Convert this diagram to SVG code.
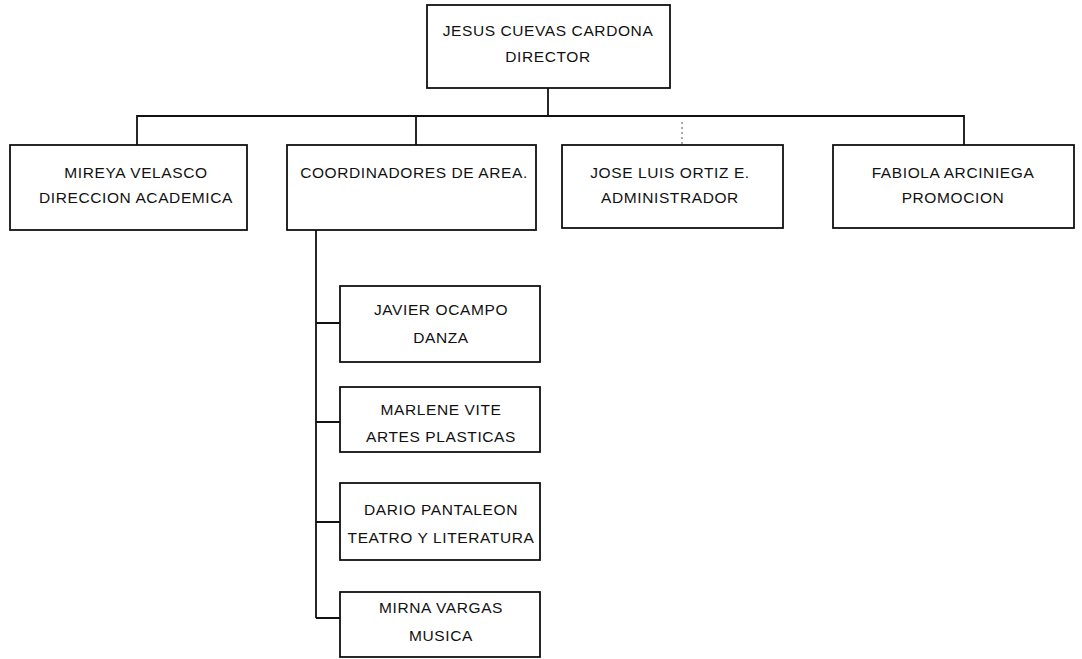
<svg xmlns="http://www.w3.org/2000/svg" width="1082" height="659" viewBox="0 0 1082 659">
<style>
.box{fill:#fff;stroke:#111;stroke-width:1.8}
.t{font-family:"Liberation Sans",Arial,sans-serif;font-size:15.5px;letter-spacing:0.6px;fill:#111;text-anchor:middle}
.c{fill:none;stroke:#111;stroke-width:1.8}
.d{fill:none;stroke:#555;stroke-width:1;stroke-dasharray:2,3}
</style>
<rect width="1082" height="659" fill="#fff"/>
<g id="connectors">
<path class="c" d="M548 88V116M137 145V116H964V145M416 116V145"/>
<path class="d" d="M682 122V145"/>
<path class="c" d="M316 230V618M316 323H340M316 422H340M316 522H340M316 618H340"/>
</g>
<g id="director"><rect class="box" x="427" y="5" width="243" height="83"/>
<text class="t" x="548" y="36">JESUS CUEVAS CARDONA</text><text class="t" x="548" y="62">DIRECTOR</text></g>
<g id="mireya"><rect class="box" x="10" y="145" width="237" height="85"/>
<text class="t" x="136" y="178">MIREYA VELASCO</text><text class="t" x="136" y="203">DIRECCION ACADEMICA</text></g>
<g id="coordinadores"><rect class="box" x="287" y="145" width="249" height="85"/>
<text class="t" x="414" y="178">COORDINADORES DE AREA.</text></g>
<g id="jose"><rect class="box" x="562" y="145" width="221" height="83"/>
<text class="t" x="670" y="178">JOSE LUIS ORTIZ E.</text><text class="t" x="670" y="203">ADMINISTRADOR</text></g>
<g id="fabiola"><rect class="box" x="833" y="145" width="241" height="83"/>
<text class="t" x="953" y="178">FABIOLA ARCINIEGA</text><text class="t" x="953" y="203">PROMOCION</text></g>
<g id="javier"><rect class="box" x="340" y="286" width="200" height="76"/>
<text class="t" x="441" y="315">JAVIER OCAMPO</text><text class="t" x="441" y="343">DANZA</text></g>
<g id="marlene"><rect class="box" x="340" y="387" width="200" height="65"/>
<text class="t" x="441" y="415">MARLENE VITE</text><text class="t" x="441" y="442">ARTES PLASTICAS</text></g>
<g id="dario"><rect class="box" x="340" y="483" width="200" height="77"/>
<text class="t" x="441" y="515">DARIO PANTALEON</text><text class="t" x="441" y="543">TEATRO Y LITERATURA</text></g>
<g id="mirna"><rect class="box" x="340" y="592" width="200" height="65"/>
<text class="t" x="441" y="613">MIRNA VARGAS</text><text class="t" x="441" y="641">MUSICA</text></g>
</svg>
